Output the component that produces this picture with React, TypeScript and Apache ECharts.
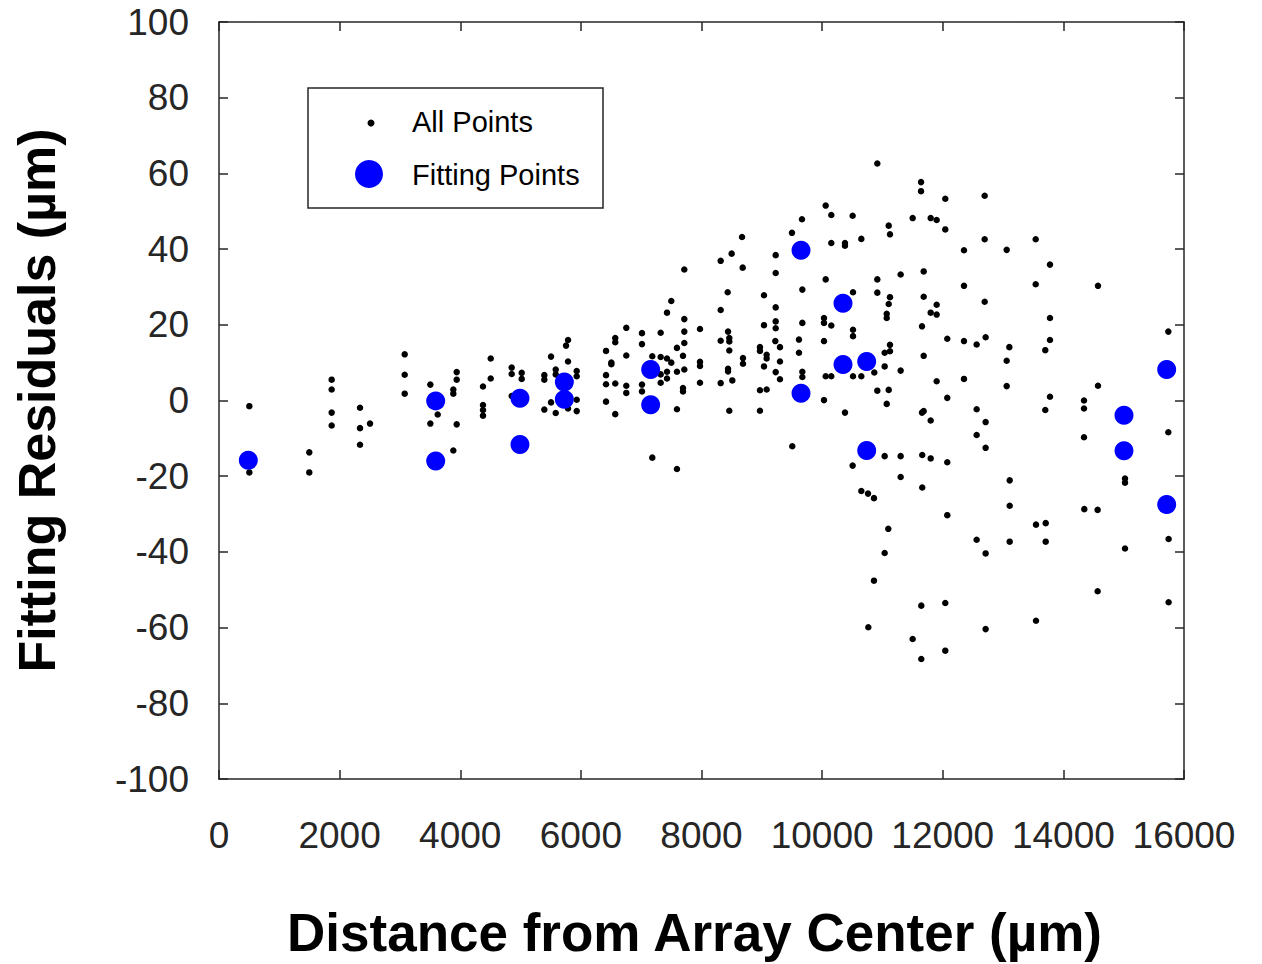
import React, { useEffect, useRef } from "react";
import * as echarts from "echarts";

// Distance from array center (µm), fitting residual (µm)
const allPointsA: number[][] = [
  [503, -1.5], [503, -19], [486, -15.8], [1497, -13.7], [1497, -19], [1868, 5.5], [1868, 2.9], [1868, -3.2], [1868, -6.6],
  [2338, -1.9], [2338, -7.3], [2338, -11.7], [2504, -6.1], [3079, 12.2], [3079, 6.8], [3079, 1.8],
  [3504, 4.2], [3593, -0.1], [3593, -16], [3626, -3.7], [3504, -6.1], [3885, -13.2], [3941, 7.5], [3941, 5.5], [3885, 2.9], [3885, 1.8],
  [3941, -6.3], [4505, 11.1], [4505, 5.8], [4377, 3.7], [4377, -1.2], [4377, -2.5], [4377, -4.0], [4853, 8.7], [4853, 7.0],
  [5019, 7.3], [5019, 5.7], [4853, 1.2], [4990, 0.6], [4990, -11.6], [5505, 11.6], [5787, 16], [5754, 14.5], [5787, 10.3], [5583, 8.2], [5583, 6.9],
  [5394, 6.7], [5394, 5.5], [5931, 7.8], [5931, 6.4], [5931, 0.2], [5505, -0.5], [5394, -2.4], [5583, -3.3], [5931, -2.8], [5787, -2.1],
  [5726, 4.9], [5726, 0.3],
];

const allPointsB: number[][] = [
  [8500, 38.8], [8318, 36.9], [8683, 35.1], [8672, 43.2], [9230, 38.4], [9230, 33.7], [7715, 34.6], [8434, 28.6], [8318, 23.9], [9036, 27.8],
  [9230, 24.6], [7499, 26.3], [7428, 23.2], [7715, 21.5], [6753, 19.2], [7013, 17.8], [7323, 17.9], [7715, 18.2], [7975, 18.9],
  [6570, 16.5], [6570, 15.4], [7013, 14.9], [6417, 13.1], [7715, 15.2], [7593, 13.9], [8440, 18.2], [8461, 16.5], [8461, 15.6],
  [8318, 15.8], [8461, 13.2], [6753, 11.9], [6505, 10], [6505, 9.6], [7184, 11.7], [7323, 11.5], [7428, 11.1], [7499, 10],
  [7693, 11.8], [7428, 7.6], [7323, 6.9], [7593, 7.6], [7715, 8.2], [7975, 10.2], [7975, 9.1], [8688, 11.2], [8688, 9.7],
  [8440, 8.4], [8440, 7.7], [8511, 5.3], [8318, 4.6], [6417, 6.7], [6417, 4.3], [6570, 4.5], [6753, 3.9], [6753, 2.0],
  [7013, 4.2], [7013, 2.4], [7323, 4.7], [7428, 5.8], [7693, 3.3], [7693, 2.4], [7975, 4.7], [6417, -0.3], [6570, -3.6],
  [7593, -2.3], [8461, -2.7], [8969, -2.7], [9036, 9.0], [8969, 14.1], [8969, 13.1], [9080, 12.1], [9080, 11.1], [9036, 19.9],
  [9230, 20.9], [9230, 19.1], [8969, 2.7], [9080, 2.9], [9230, 7.5], [7184, -15.1], [7593, -18.1], [7157, 8.2], [7157, -1.1],
];

const allPointsC: number[][] = [
  [10059, 51.5], [10152, 49], [10506, 48.8], [9666, 47.9], [11104, 46.2], [11125, 43.9], [9500, 44.3], [10152, 41.6],
  [10379, 41.6], [10379, 40.9], [10650, 42.7], [11302, 33.3], [10059, 32], [10915, 32], [9672, 29.3], [10512, 28.6],
  [10915, 28.5], [11125, 27.3], [11104, 25.5], [11071, 22.9], [11071, 21.8], [9672, 20.5], [10031, 21.8], [10031, 20.5],
  [10152, 19.8], [10512, 18.7], [10512, 17], [9224, 15.7], [9301, 14.1], [9616, 16.1], [10031, 15.7], [9616, 12.6],
  [9301, 10.3], [9301, 5.6], [9672, 7.6], [9672, 6.2], [10059, 6.4], [10152, 6.4], [10512, 6.4], [10650, 6.4], [10865, 7.4],
  [11037, 9.0], [11037, 12.6], [11125, 13], [11125, 14.7], [11302, 7.9], [10031, 0.1], [10379, -3.2], [10915, 2.6],
  [11104, 2.8], [11071, -0.9], [9505, -12.1], [10506, -17.2], [11037, -14.7], [11302, -14.7], [11302, -20.2],
  [10915, 62.6], [9650, 39.7], [10346, 25.7], [10346, 9.5], [10739, 10.3], [9650, 1.9], [10739, -13.2],
  [10650, -23.9], [10761, -24.6], [10860, -25.8], [11097, -33.9], [11037, -40.3], [10860, -47.6], [10766, -59.9],
];

const allPointsD: number[][] = [
  [11640, 57.7], [11640, 55.3], [12042, 53.3], [11501, 48.2], [11800, 48.2], [11899, 47.7], [12042, 45.2],
  [12695, 54.1], [12695, 42.6], [12352, 39.7], [13060, 39.8], [11684, 34.1], [12352, 30.3], [12695, 26.1],
  [11684, 27.4], [11899, 25.3], [11800, 23.2], [11899, 22.7], [11656, 19.6], [12075, 16.3], [12352, 15.7], [12562, 14.8],
  [12711, 16.7], [13104, 14.1], [11684, 11.8], [13060, 10.5], [11899, 5.1], [12352, 5.7], [13060, 3.8], [12075, 0.7],
  [11656, -3.2], [11684, -2.8], [11800, -5.3], [12562, -2.3], [12711, -5.7], [12562, -9.1],
  [12711, -12.5], [11660, -14.4], [11800, -15.3], [12075, -16.3], [11660, -23], [12075, -30.3], [12562, -36.8],
  [12711, -40.4], [11644, -54.2], [12042, -53.5], [12711, -60.4], [11501, -63], [12042, -66.1], [11644, -68.3],
  [13110, -21.1], [13110, -27.8], [13110, -37.3],
];

const allPointsE: number[][] = [
  [13541, 42.6], [13778, 35.9], [13541, 30.7], [13778, 21.8], [13778, 16], [13700, 13.3], [13778, 1], [13700, -2.5],
  [14574, 30.3], [15740, 18.2], [14574, 3.9], [14342, 0], [14342, -2.1], [15740, -8.4], [14342, -9.7],
  [15022, -20.6], [15022, -21.7], [13546, -32.8], [13707, -32.4], [13707, -37.3], [14347, -28.7], [14568, -28.9],
  [15022, -39.1], [15745, -36.6], [14568, -50.4], [15745, -53.3], [13546, -58.2],
  [15005, -3.9], [15005, -13.3], [15713, 8.2], [15713, -27.5],
];

const fittingPoints: number[][] = [
  [486, -15.8], [3593, -0.1], [3593, -16], [4990, 0.6], [4990, -11.6], [5726, 4.9], [5726, 0.3],
  [7157, 8.2], [7157, -1.1], [9650, 39.7], [10346, 25.7], [10346, 9.5], [10739, 10.3], [9650, 1.9],
  [10739, -13.2], [15005, -3.9], [15005, -13.3], [15713, 8.2], [15713, -27.5],
];

const xTicks = [0, 2000, 4000, 6000, 8000, 10000, 12000, 14000, 16000];
const yTicks = [-100, -80, -60, -40, -20, 0, 20, 40, 60, 80, 100];

const seriesNames = ["All Points", "Fitting Points"];
const xTitle = "Distance from Array Center (µm)";
const yTitle = "Fitting Residuals (µm)";

const FONT = "'Liberation Sans', Arial, Helvetica, sans-serif";
const AXIS_COLOR = "#262626";

export default function App() {
  const ref = useRef<HTMLDivElement>(null);

  useEffect(() => {
    if (!ref.current) return;
    const chart = echarts.init(ref.current, undefined, { renderer: "svg" });
    const allPoints = [...allPointsA, ...allPointsB, ...allPointsC, ...allPointsD, ...allPointsE];

    const axisCommon = {
      type: "value" as const,
      axisLine: { show: true, onZero: false, lineStyle: { color: AXIS_COLOR, width: 1.5 } },
      axisTick: { show: true, inside: true, length: 9, lineStyle: { color: AXIS_COLOR, width: 1.5 } },
      splitLine: { show: false },
    };

    const xMin = xTicks[0];
    const xMax = xTicks[xTicks.length - 1];
    const xInt = xTicks[1] - xTicks[0];
    const yMin = yTicks[0];
    const yMax = yTicks[yTicks.length - 1];
    const yInt = yTicks[1] - yTicks[0];

    chart.setOption({
      animation: false,
      backgroundColor: "#ffffff",
      grid: { left: 219, right: 78, top: 22, bottom: 182, containLabel: false },
      xAxis: [
        {
          ...axisCommon,
          position: "bottom",
          min: xMin,
          max: xMax,
          interval: xInt,
          axisLabel: {
            show: true,
            fontSize: 37,
            fontFamily: FONT,
            color: AXIS_COLOR,
            margin: 38,
            formatter: (v: number) => String(v),
          },
          name: xTitle,
          nameLocation: "middle",
          nameGap: 127,
          nameTextStyle: { fontSize: 53, fontWeight: "bold", fontFamily: FONT, color: "#000", padding: [0, 14, 0, 0] },
        },
        {
          ...axisCommon,
          position: "top",
          min: xMin,
          max: xMax,
          interval: xInt,
          axisLabel: { show: false },
        },
      ],
      yAxis: [
        {
          ...axisCommon,
          position: "left",
          min: yMin,
          max: yMax,
          interval: yInt,
          axisLabel: {
            show: true,
            fontSize: 37,
            fontFamily: FONT,
            color: AXIS_COLOR,
            margin: 30,
            formatter: (v: number) => String(v),
          },
          name: yTitle,
          nameLocation: "middle",
          nameGap: 156,
          nameTextStyle: { fontSize: 52, fontWeight: "bold", fontFamily: FONT, color: "#000" },
        },
        {
          ...axisCommon,
          position: "right",
          min: yMin,
          max: yMax,
          interval: yInt,
          axisLabel: { show: false },
        },
      ],
      series: [
        {
          name: seriesNames[0],
          type: "scatter",
          data: allPoints,
          symbol: "circle",
          symbolSize: 6.5,
          itemStyle: { color: "#000000", opacity: 1 },
          z: 2,
        },
        {
          name: seriesNames[1],
          type: "scatter",
          data: fittingPoints,
          symbol: "circle",
          symbolSize: 19,
          itemStyle: { color: "#0000ff", opacity: 1 },
          z: 3,
        },
      ],
      graphic: [
        {
          type: "group",
          z: 10,
          children: [
            {
              type: "rect",
              shape: { x: 308, y: 88, width: 295, height: 120 },
              style: { fill: "#ffffff", stroke: AXIS_COLOR, lineWidth: 1.5 },
            },
            { type: "circle", shape: { cx: 371, cy: 123, r: 3.5 }, style: { fill: "#000000" } },
            { type: "circle", shape: { cx: 369, cy: 174, r: 14 }, style: { fill: "#0000ff" } },
            {
              type: "text",
              x: 412,
              y: 122,
              style: { text: seriesNames[0], fontSize: 29, fontFamily: FONT, fill: "#000", verticalAlign: "middle", align: "left" },
            },
            {
              type: "text",
              x: 412,
              y: 175,
              style: { text: seriesNames[1], fontSize: 29, fontFamily: FONT, fill: "#000", verticalAlign: "middle", align: "left" },
            },
          ],
        },
      ],
    });

    return () => chart.dispose();
  }, []);

  return (
    <div
      ref={ref}
      style={{ position: "absolute", left: 0, top: 0, width: 1262, height: 964, background: "#fff" }}
    />
  );
}
